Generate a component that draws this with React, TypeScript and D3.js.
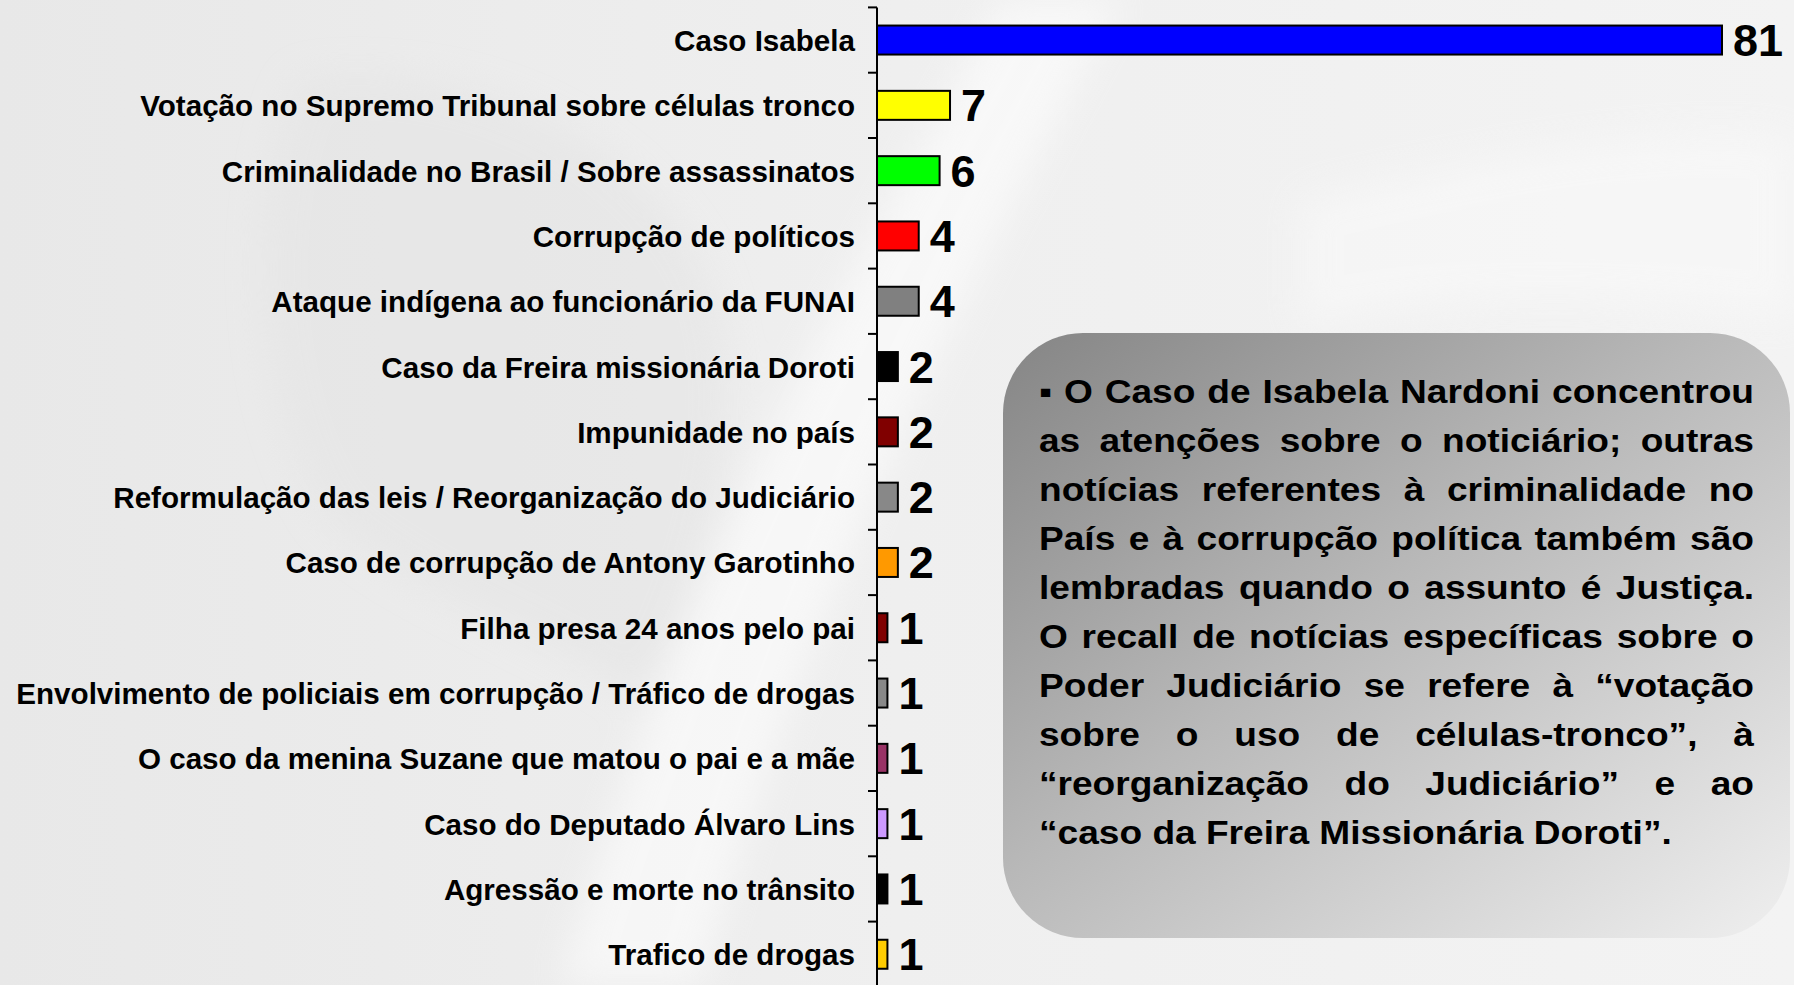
import React from "react";
import * as d3 from "d3";

const W = 1794;
const H = 985;

const categories = [
  "Caso Isabela",
  "Votação no Supremo Tribunal sobre células tronco",
  "Criminalidade no Brasil / Sobre assassinatos",
  "Corrupção de políticos",
  "Ataque indígena ao funcionário da FUNAI",
  "Caso da Freira missionária Doroti",
  "Impunidade no país",
  "Reformulação das leis / Reorganização do Judiciário",
  "Caso de corrupção de Antony Garotinho",
  "Filha presa 24 anos pelo pai",
  "Envolvimento de policiais em corrupção / Tráfico de drogas",
  "O caso da menina Suzane que matou o pai e a mãe",
  "Caso do Deputado Álvaro Lins",
  "Agressão e morte no trânsito",
  "Trafico de drogas",
];

const values = [81, 7, 6, 4, 4, 2, 2, 2, 2, 1, 1, 1, 1, 1, 1];

const barColors = [
  "#0000FF",
  "#FFFF00",
  "#00FF00",
  "#FF0000",
  "#808080",
  "#000000",
  "#800000",
  "#888888",
  "#FF9900",
  "#800000",
  "#888888",
  "#993366",
  "#CC99FF",
  "#000000",
  "#FFCC00",
];

const noteLines = [
  "▪ O Caso de Isabela Nardoni concentrou",
  "as atenções sobre o noticiário; outras",
  "notícias referentes à criminalidade no",
  "País e à corrupção política também são",
  "lembradas quando o assunto é Justiça.",
  "O recall de notícias específicas sobre o",
  "Poder Judiciário se refere à “votação",
  "sobre o uso de células-tronco”, à",
  "“reorganização do Judiciário” e ao",
  "“caso da Freira Missionária Doroti”.",
];

const FONT = "'Liberation Sans', Arial, Helvetica, sans-serif";
const fontStyle = { fontFamily: FONT };

let ctx: CanvasRenderingContext2D | null = null;
function measure(text: string, font: string): number {
  if (!ctx) ctx = document.createElement("canvas").getContext("2d");
  if (!ctx) return text.length * 16;
  ctx.font = font;
  return ctx.measureText(text).width;
}

export default function App() {
  const top = 7.4;
  const step = 65.3;
  const y = d3
    .scaleBand<string>()
    .domain(categories)
    .range([top, top + step * categories.length])
    .padding(0);
  const x = d3.scaleLinear().domain([0, 81]).range([877, 1722]);
  const barH = 29;

  const axisX = x(0);
  const ticks = categories.map((c) => y(c) as number);

  const box = { x: 1003, y: 333, w: 787, h: 605, r: 80 };
  const textLeft = 1039;
  const textW = 715;
  const noteFontSize = 33;
  const sx = 1.124;
  const noteFont = `bold ${noteFontSize}px 'Liberation Sans'`;
  const firstBaseline = 403;
  const lineGap = 49;
  const innerW = textW / sx;

  return (
    <svg
      width={W}
      height={H}
      style={{ position: "absolute", left: 0, top: 0, display: "block" }}
    >
      <defs>
        <linearGradient id="bg" x1="0" y1="0" x2="1" y2="0">
          <stop offset="0" stopColor="#e8e8e8" />
          <stop offset="0.5" stopColor="#efefef" />
          <stop offset="1" stopColor="#f3f3f3" />
        </linearGradient>
        <linearGradient id="boxGrad" x1="0" y1="0" x2="1" y2="1">
          <stop offset="0" stopColor="#858585" />
          <stop offset="0.45" stopColor="#b8b8b8" />
          <stop offset="1" stopColor="#efefef" />
        </linearGradient>
        <filter id="blur" x="-20%" y="-20%" width="140%" height="140%">
          <feGaussianBlur stdDeviation="18" />
        </filter>
      </defs>

      <rect x={0} y={0} width={W} height={H} fill="url(#bg)" />
      <g filter="url(#blur)" opacity={0.55}>
        <path
          d="M 1000 0 C 900 200, 700 500, 560 985 L 700 985 C 820 560, 980 260, 1120 0 Z"
          fill="#ffffff"
        />
        <path
          d="M 300 80 C 450 60, 620 120, 700 260 C 760 380, 720 560, 640 700 C 560 640, 420 600, 330 520 C 260 420, 240 220, 300 80 Z"
          fill="#e4e4e4"
        />
        <path
          d="M 1300 200 C 1500 150, 1700 120, 1794 140 L 1794 320 C 1650 300, 1450 290, 1300 330 Z"
          fill="#fafafa"
        />
      </g>

      <line x1={axisX} x2={axisX} y1={top} y2={H} stroke="#000" strokeWidth={2} />
      {ticks.map((t, i) => (
        <line key={"t" + i} x1={axisX - 9} x2={axisX} y1={t} y2={t} stroke="#000" strokeWidth={2} />
      ))}

      {categories.map((c, i) => {
        const cy = (y(c) as number) + y.bandwidth() / 2;
        return (
          <g key={c}>
            <rect
              x={axisX}
              y={cy - barH / 2}
              width={x(values[i]) - axisX}
              height={barH}
              fill={barColors[i]}
              stroke="#000"
              strokeWidth={2}
            />
            <text
              x={axisX - 22}
              y={cy + 11}
              textAnchor="end"
              fontWeight="bold"
              fontSize={29.6}
              fill="#000"
              style={fontStyle}
            >
              {c}
            </text>
            <text
              x={x(values[i]) + 11}
              y={cy + 16}
              textAnchor="start"
              fontWeight="bold"
              fontSize={45}
              fill="#000"
              style={fontStyle}
            >
              {values[i]}
            </text>
          </g>
        );
      })}

      <rect
        x={box.x}
        y={box.y}
        width={box.w}
        height={box.h}
        rx={box.r}
        ry={box.r}
        fill="url(#boxGrad)"
      />
      <g transform={`translate(${textLeft},0) scale(${sx},1)`}>
        {noteLines.map((line, li) => {
          const by = firstBaseline + li * lineGap;
          const words = line.split(" ");
          const isLast = li === noteLines.length - 1;
          const widths = words.map((w) => measure(w, noteFont));
          const total = widths.reduce((a, b) => a + b, 0);
          const spaceW = measure(" ", noteFont);
          const gap =
            isLast || words.length < 2 ? spaceW : (innerW - total) / (words.length - 1);
          let cx = 0;
          return (
            <g key={"n" + li}>
              {words.map((w, wi) => {
                const px = cx;
                cx += widths[wi] + gap;
                return (
                  <text
                    key={wi}
                    x={px}
                    y={by}
                    fontWeight="bold"
                    fontSize={noteFontSize}
                    fill="#000"
                    style={fontStyle}
                  >
                    {w}
                  </text>
                );
              })}
            </g>
          );
        })}
      </g>
    </svg>
  );
}
